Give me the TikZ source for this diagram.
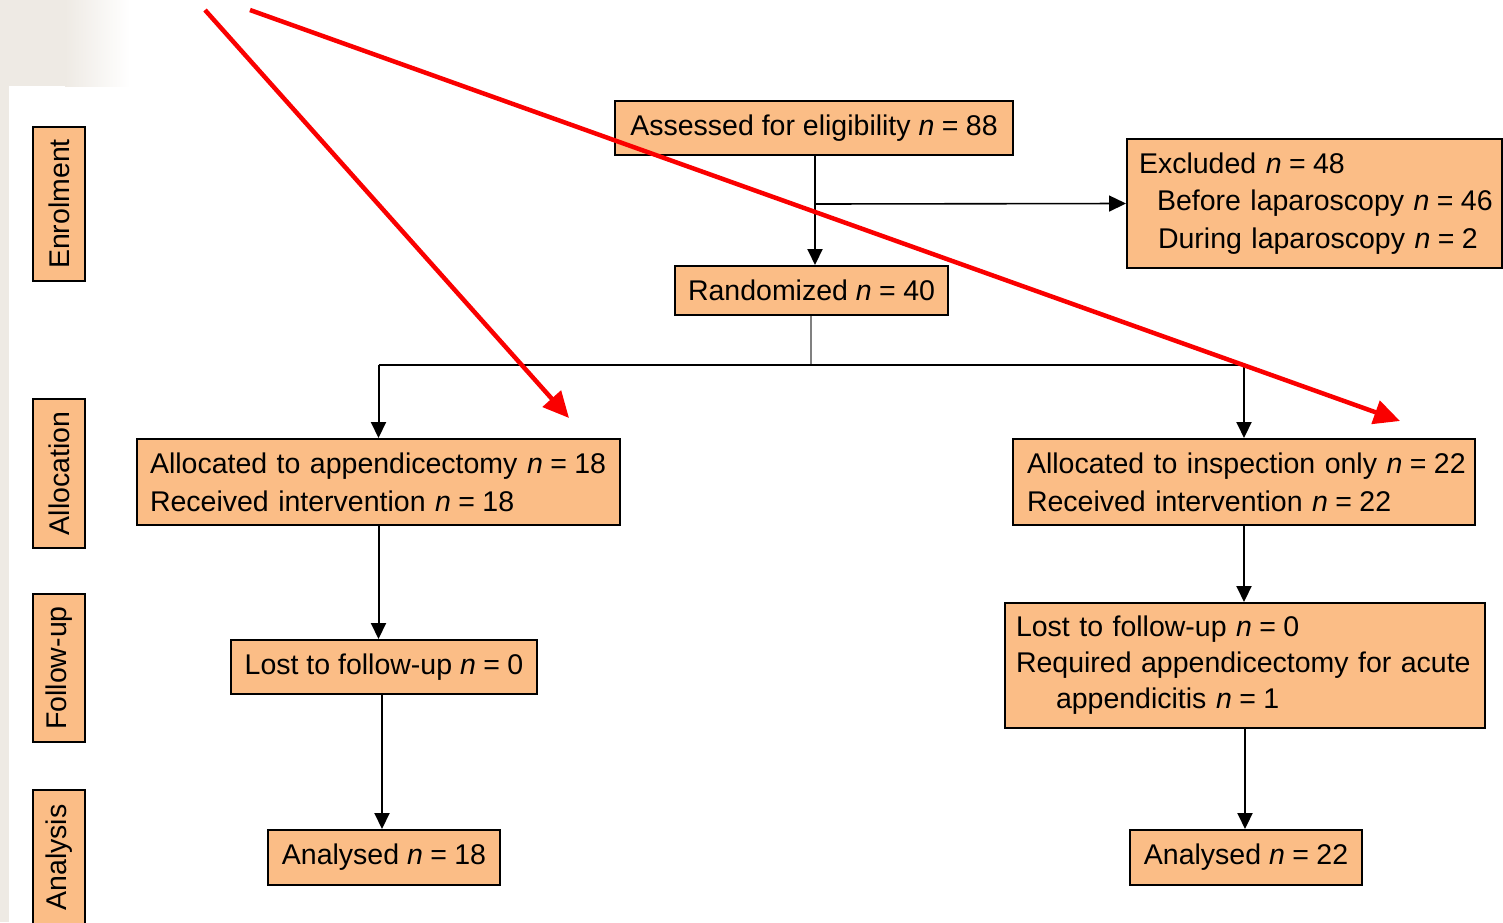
\documentclass[tikz,border=0pt]{standalone}
\usepackage{fontspec}
\setmainfont{Liberation Sans}
\usetikzlibrary{arrows.meta}
\definecolor{boxfill}{RGB}{251,189,134}
\definecolor{bgbeige}{RGB}{238,234,228}
\definecolor{annred}{RGB}{250,0,0}
\newcommand{\nn}[1]{\textit{n}\hspace{0.26em}=\hspace{0.26em}#1}
\begin{document}
\begin{tikzpicture}[x=1pt,y=-1pt,
  box/.style={draw=black, line width=2pt, fill=boxfill, inner ysep=0pt,
    font=\fontsize{28.5}{38}\selectfont},
  lbl/.style={draw=black, line width=2.5pt, fill=boxfill, inner sep=0pt, rotate=90,
    minimum height=52pt, font=\fontsize{28.5}{34}\selectfont},
  conn/.style={draw=black, line width=2pt, -{Triangle[length=16pt,width=15pt]}},
  connline/.style={draw=black, line width=2pt},
  thinline/.style={draw=black, line width=1.6pt},
  grayline/.style={draw=black!50, line width=1.8pt},
  redarrow/.style={draw=annred, line width=4.5pt, -{Triangle[length=26pt,width=24pt]}}
]
\useasboundingbox (0,0) rectangle (1503,922);
\clip (0,0) rectangle (1503,922);
% background
\fill[white] (0,0) rectangle (1503,922);
\fill[bgbeige] (0,0) rectangle (9,922);
\fill[bgbeige] (0,0) rectangle (66,86);
\shade[left color=bgbeige, right color=white] (65,0) rectangle (130,86);

% stage labels
\node[lbl, minimum width=154pt] (enrol) at (59,204) {Enrolment};
\node[lbl, minimum width=149pt] (alloc) at (59,473.5) {Allocation};
\node[lbl, minimum width=148pt] (follow) at (59,668) {Follow-up};
\node[lbl, minimum width=135pt] (anal) at (59,857.5) {Analysis};

% boxes
\node[box, minimum width=398pt, minimum height=54pt] (assess) at (814,128) {Assessed for eligibility \nn{88}};
\node[box, inner xsep=12pt, text width=351pt, minimum height=129pt, align=left] (excl) at (1314.5,203.5)
  {\mbox{Excluded \nn{48}}\\[-0.5pt]\mbox{\hspace*{18pt}Before laparoscopy \nn{46}}\\[-0.5pt]\mbox{\hspace*{19pt}During laparoscopy \nn{2}}};
\node[box, minimum width=273pt, minimum height=49pt] (rand) at (811.5,290.5) {Randomized \nn{40}};
\node[box, inner xsep=13pt, text width=457pt, minimum height=86pt, align=left] (allocL) at (378.5,482)
  {\mbox{Allocated to appendicectomy \nn{18}}\\\mbox{Received intervention \nn{18}}};
\node[box, inner xsep=14pt, text width=434pt, minimum height=86pt, align=left] (allocR) at (1244,482)
  {\mbox{Allocated to inspection only \nn{22}}\\\mbox{Received intervention \nn{22}}};
\node[box, minimum width=306pt, minimum height=54pt] (lostL) at (384,667) {Lost to follow-up \nn{0}};
\node[box, inner xsep=11pt, text width=458pt, minimum height=125pt, align=left] (lostR) at (1245,665.5)
  {\mbox{Lost to follow-up \nn{0}}\\[-2pt]\mbox{Required appendicectomy for acute}\\[-2pt]\mbox{\hspace*{40pt}appendicitis \nn{1}}};
\node[box, minimum width=232pt, minimum height=55pt] (anaL) at (384,857.5) {Analysed \nn{18}};
\node[box, minimum width=232pt, minimum height=55pt] (anaR) at (1246,857.5) {Analysed \nn{22}};

% connectors
\coordinate (j1) at (815,204);
\coordinate (split) at (811,365);
\coordinate (jL) at (382,694);
\draw[conn] (j1 |- assess.south) -- (j1 |- rand.north);
\draw[thinline, -{Triangle[length=17pt,width=16pt]}] (j1) -- (excl.west);
\draw[grayline] (rand.south -| split) -- (split);
\draw[connline] (split -| allocL.north) -- (split -| allocR.north);
\draw[conn] (split -| allocL.north) -- (allocL.north);
\draw[conn] (split -| allocR.north) -- (allocR.north);
\draw[conn] (allocL.south) -- (allocL.south |- lostL.north);
\draw[conn] (jL |- lostL.south) -- (jL |- anaL.north);
\draw[conn] (allocR.south) -- (allocR.south |- lostR.north);
\draw[conn] (lostR.south) -- (lostR.south |- anaR.north);

% red annotation arrows
\coordinate (r1s) at (205,10);
\coordinate (r1e) at (569,418);
\coordinate (r2s) at (250,10);
\coordinate (r2e) at (1400,421);
\draw[redarrow] (r1s) -- (r1e);
\draw[redarrow] (r2s) -- (r2e);
\end{tikzpicture}
\end{document}
